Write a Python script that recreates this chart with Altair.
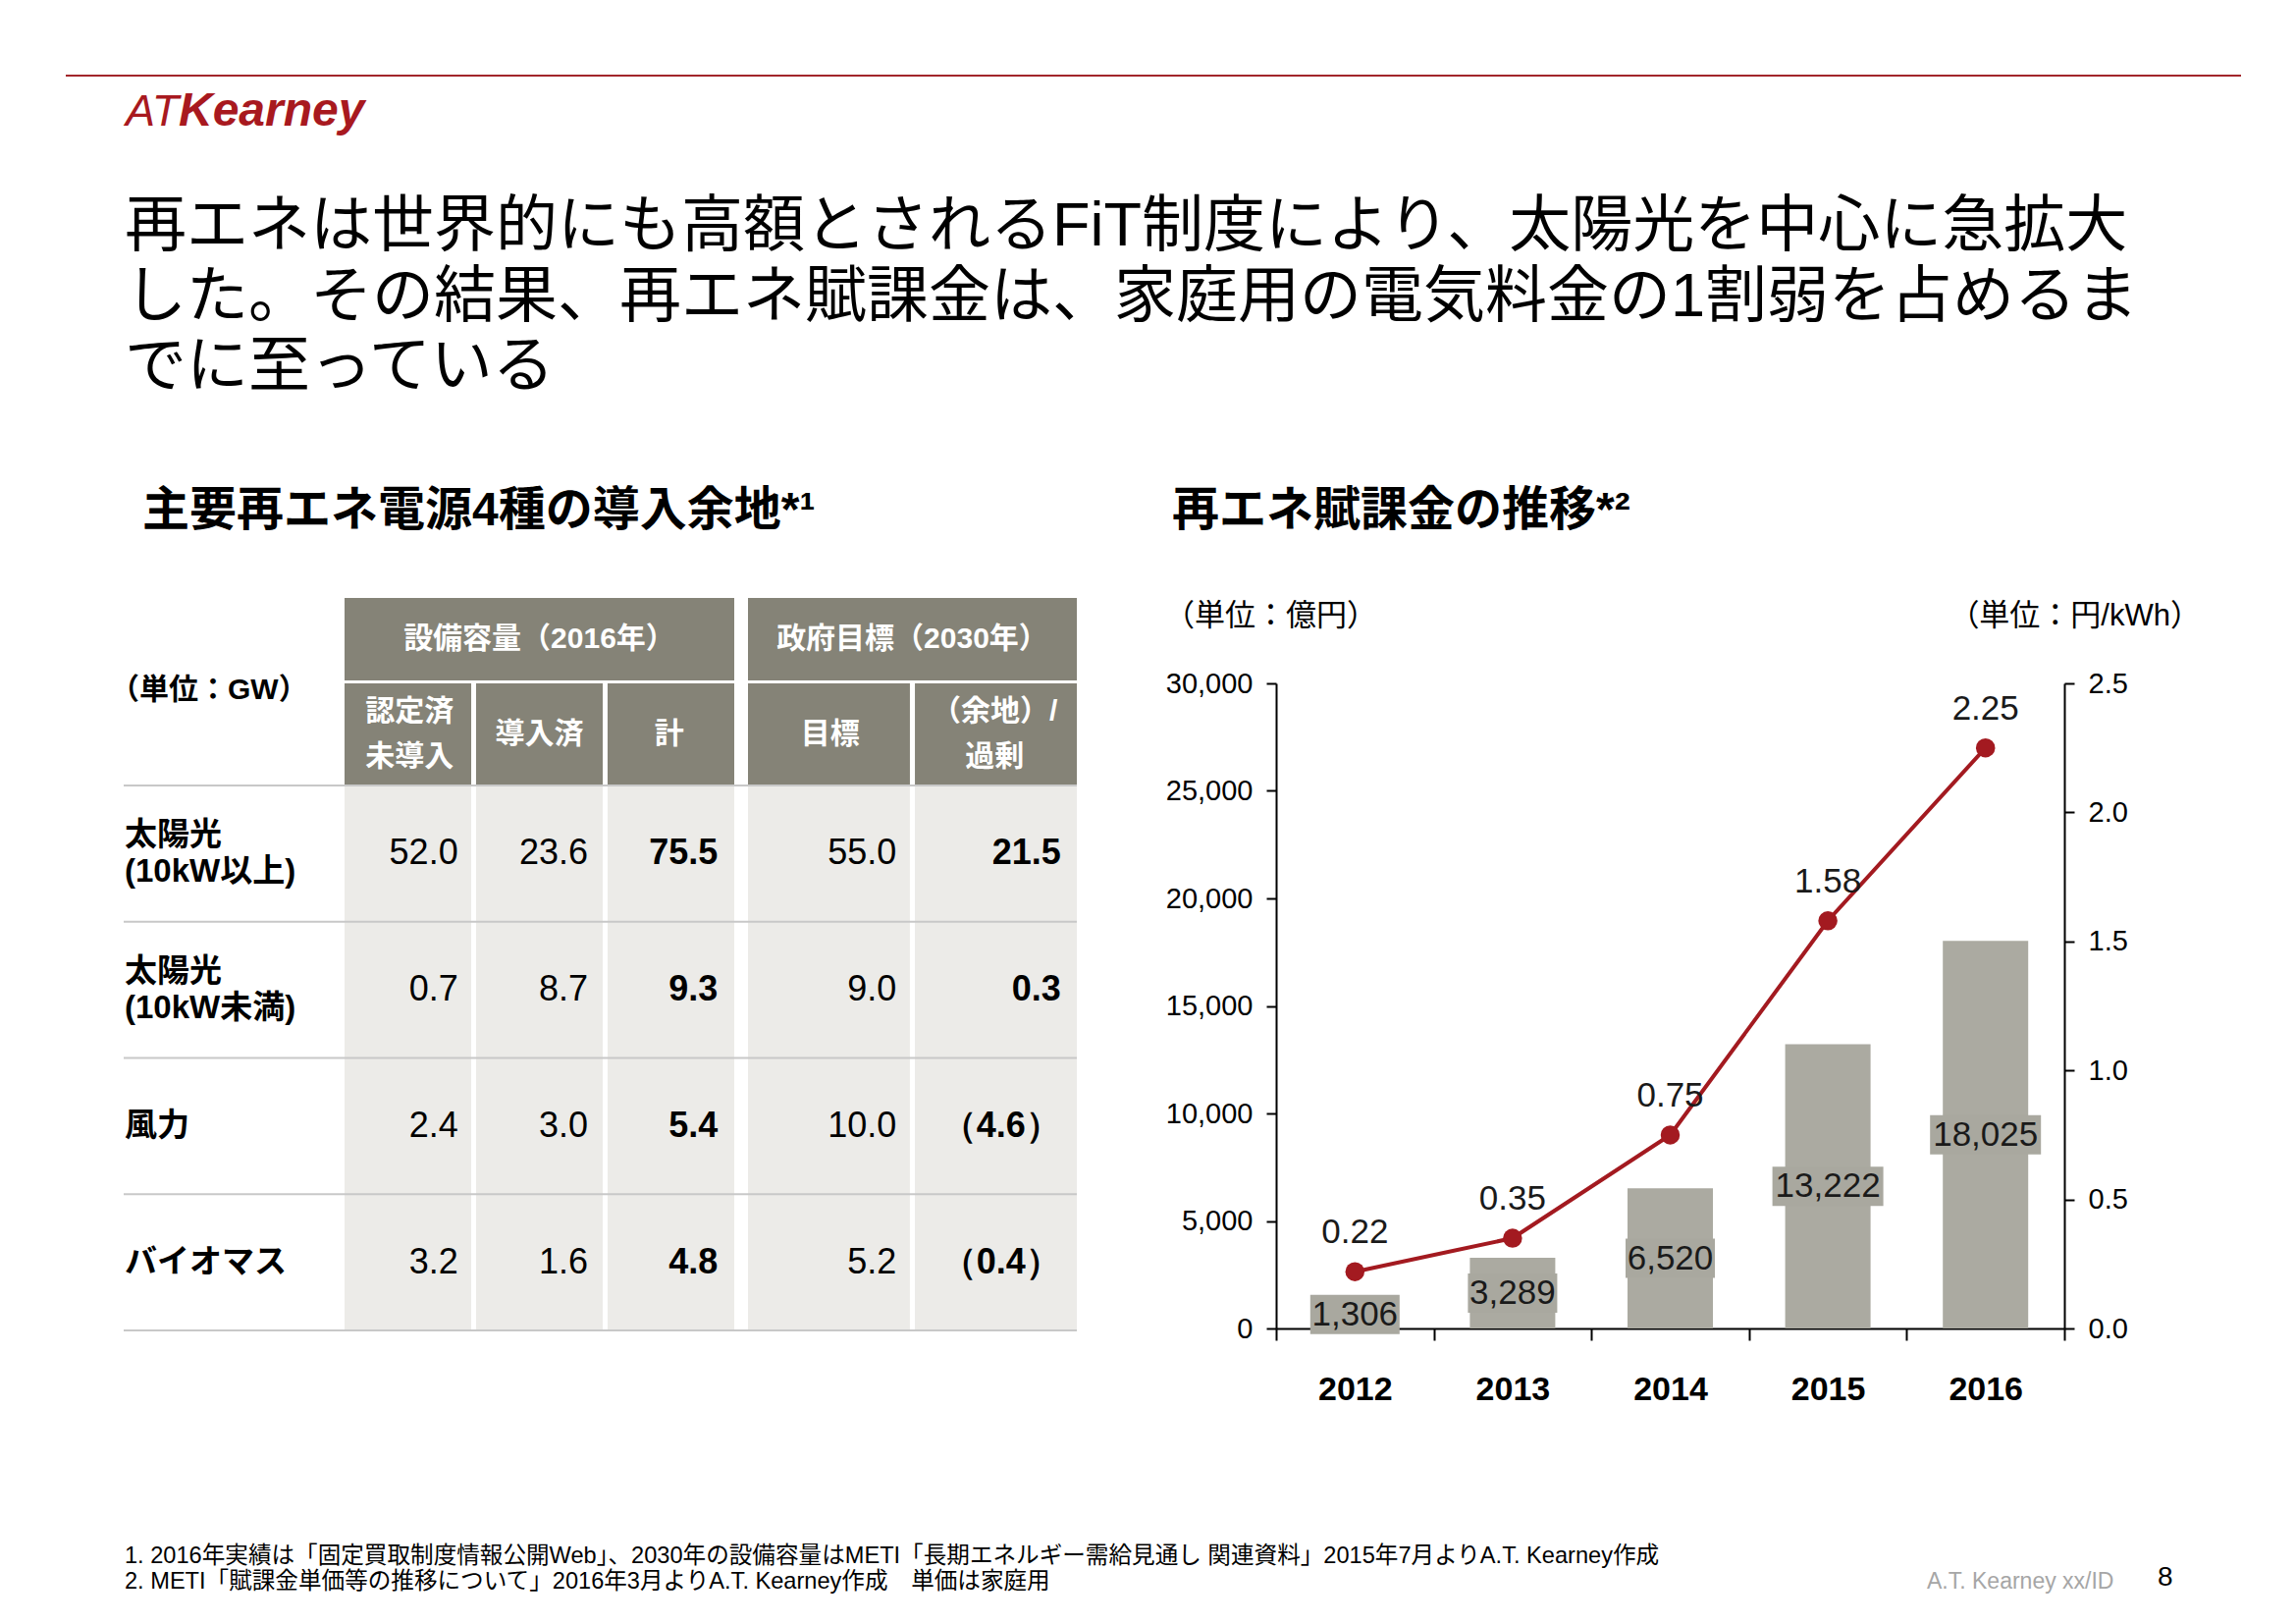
import altair as alt
import pandas as pd

# ---------------- data ----------------
title_lines = [
    "再エネは世界的にも高額とされるFiT制度により、太陽光を中心に急拡大",
    "した。その結果、再エネ賦課金は、家庭用の電気料金の1割弱を占めるま",
    "でに至っている",
]
left_subtitle = "主要再エネ電源4種の導入余地*¹"
right_subtitle = "再エネ賦課金の推移*²"
footnotes = [
    "1. 2016年実績は「固定買取制度情報公開Web」、2030年の設備容量はMETI「長期エネルギー需給見通し 関連資料」2015年7月よりA.T. Kearney作成",
    "2. METI「賦課金単価等の推移について」2016年3月よりA.T. Kearney作成　単価は家庭用",
]

row_labels = ["太陽光\n(10kW以上)", "太陽光\n(10kW未満)", "風力", "バイオマス"]
group_labels = ["設備容量（2016年）", "政府目標（2030年）"]
group1_cols = ["認定済\n未導入", "導入済", "計"]
group2_cols = ["目標", "（余地）/\n過剰"]
bold_cols = ["計", "（余地）/\n過剰"]
certified_not_installed = [52.0, 0.7, 2.4, 3.2]
installed = [23.6, 8.7, 3.0, 1.6]
total = [75.5, 9.3, 5.4, 4.8]
target_2030 = [55.0, 9.0, 10.0, 5.2]
surplus = [21.5, 0.3, -4.6, -0.4]

years = ["2012", "2013", "2014", "2015", "2016"]
levy_oku_yen = [1306, 3289, 6520, 13222, 18025]
unit_price_yen_kwh = [0.22, 0.35, 0.75, 1.58, 2.25]

# ---------------- layout / style ----------------
X0, Y0 = 1300, 696       # page position of plot origin
W, H = 803, 657
def px(x): return x - X0
def py(y): return y - Y0

JP = "Liberation Sans, Noto Sans CJK JP"
LAT = "Liberation Sans"
RED = "#a31a20"
HDR = "#858377"
BODY = "#ecebe8"
BAR = "#abaaa1"
BOX = "#a9a89f"

one = pd.DataFrame({"k": [0]})

def txt(text, x, y, size, weight="normal", color="#000000", align="left",
        baseline="middle", font=JP, style="normal"):
    return alt.Chart(pd.DataFrame({"t": [text]})).mark_text(
        align=align, baseline=baseline, fontSize=size, fontWeight=weight,
        color=color, font=font, fontStyle=style
    ).encode(x=alt.value(px(x)), y=alt.value(py(y)), text="t:N")

def nlines(s):
    return s.count("\n") + 1

layers = []

# top rule + logo
layers.append(alt.Chart(one).mark_rule(color="#a2262b", strokeWidth=2).encode(
    x=alt.value(px(67)), x2=alt.value(px(2283)), y=alt.value(py(77))))
layers.append(txt("AT", 128, 128, 45, color="#a8191f", baseline="alphabetic",
                  font=LAT, style="italic"))
layers.append(txt("Kearney", 182, 128, 48, weight="bold", color="#a8191f",
                  baseline="alphabetic", font=LAT, style="italic"))

# title
for i, line in enumerate(title_lines):
    layers.append(txt(line, 127, [231, 303, 374][i], 63))

# subtitles and unit labels
layers.append(txt(left_subtitle, 145, 521, 48, weight="bold"))
layers.append(txt(right_subtitle, 1194, 521, 48, weight="bold"))
layers.append(txt("（単位：億円）", 1186, 628, 31))
layers.append(txt("（単位：円/kWh）", 2242, 628, 31, align="right"))
layers.append(txt("（単位：GW）", 112, 703, 30, weight="bold"))

# footnotes
layers.append(txt(footnotes[0], 127, 1585, 23.6))
layers.append(txt(footnotes[1], 127, 1611, 23.6))
layers.append(txt("A.T. Kearney xx/ID", 1963, 1611, 23, color="#a6a6a6", font=LAT))
layers.append(txt("8", 2198, 1607, 28, font=LAT))

# ---------------- table ----------------
cols_all = group1_cols + group2_cols
series = [certified_not_installed, installed, total, target_2030, surplus]
def fmt(v):
    return "（%.1f）" % abs(v) if v < 0 else "%.1f" % v
recs = []
for ci, col in enumerate(cols_all):
    for ri, row in enumerate(row_labels):
        recs.append({"row": row, "col": col, "grp": 0 if ci < 3 else 1,
                     "txt": fmt(series[ci][ri]), "bold": col in bold_cols})
tdf = pd.DataFrame(recs)

G_RANGE = [[px(351), px(748)], [px(762), px(1097)]]
G_PAD = [0.037, 0.03]
G_COLS = [group1_cols, group2_cols]
ys = alt.Scale(domain=row_labels, range=[py(800), py(1355)], paddingInner=0, paddingOuter=0)

for gi in range(2):
    xs = alt.Scale(domain=G_COLS[gi], range=G_RANGE[gi], paddingInner=G_PAD[gi], paddingOuter=0)
    n = len(G_COLS[gi])
    span = G_RANGE[gi][1] - G_RANGE[gi][0]
    step = span / (n - G_PAD[gi])
    bw = step * (1 - G_PAD[gi])
    gdf = tdf[tdf.grp == gi]
    layers.append(alt.Chart(gdf).mark_rect(color=BODY).encode(
        x=alt.X("col:N", scale=xs, axis=None), y=alt.Y("row:N", scale=ys, axis=None)))
    for b in [False, True]:
        sub = gdf[gdf.bold == b]
        if len(sub) == 0:
            continue
        layers.append(alt.Chart(sub).mark_text(
            align="right", baseline="middle", dx=bw / 2 - 15, fontSize=36, font=LAT,
            fontWeight="bold" if b else "normal", color="#000000"
        ).encode(x=alt.X("col:N", scale=xs, axis=None),
                 y=alt.Y("row:N", scale=ys, axis=None), text="txt:N"))
    hdf = pd.DataFrame({"col": G_COLS[gi]})
    layers.append(alt.Chart(hdf).mark_rect(color=HDR).encode(
        x=alt.X("col:N", scale=xs, axis=None), y=alt.value(py(696)), y2=alt.value(py(800))))
    for nl in [1, 2]:
        sub = hdf[hdf.col.map(nlines) == nl]
        if len(sub) == 0:
            continue
        layers.append(alt.Chart(sub).mark_text(
            align="center", baseline="middle", fontSize=30, fontWeight="bold", color="white",
            font=JP, lineBreak="\n", lineHeight=46, dy=-(nl - 1) * 23
        ).encode(x=alt.X("col:N", scale=xs, axis=None), y=alt.value(py(748)), text="col:N"))
    g1df = pd.DataFrame({"g": [group_labels[gi]]})
    gs = alt.Scale(domain=[group_labels[gi]], range=G_RANGE[gi], paddingInner=0, paddingOuter=0)
    layers.append(alt.Chart(g1df).mark_rect(color=HDR).encode(
        x=alt.X("g:N", scale=gs, axis=None), y=alt.value(py(609)), y2=alt.value(py(693))))
    layers.append(alt.Chart(g1df).mark_text(
        align="center", baseline="middle", fontSize=30, fontWeight="bold", color="white", font=JP
    ).encode(x=alt.X("g:N", scale=gs, axis=None), y=alt.value(py(651)), text="g:N"))

rdf = pd.DataFrame({"row": row_labels})
layers.append(alt.Chart(rdf).mark_rule(color="#c8c8c8", strokeWidth=2).encode(
    y=alt.Y("row:N", scale=ys, axis=None, bandPosition=0),
    x=alt.value(px(126)), x2=alt.value(px(1097))))
layers.append(alt.Chart(rdf.tail(1)).mark_rule(color="#c8c8c8", strokeWidth=2).encode(
    y=alt.Y("row:N", scale=ys, axis=None, bandPosition=1),
    x=alt.value(px(126)), x2=alt.value(px(1097))))
for nl in [1, 2]:
    sub = rdf[rdf.row.map(nlines) == nl]
    layers.append(alt.Chart(sub).mark_text(
        align="left", baseline="middle", fontSize=33, fontWeight="bold", font=JP,
        lineBreak="\n", lineHeight=37, color="#000000", dy=-(nl - 1) * 18.5
    ).encode(x=alt.value(px(127)), y=alt.Y("row:N", scale=ys, axis=None), text="row:N"))

# ---------------- bar + line chart ----------------
cdf = pd.DataFrame({"year": years, "levy": levy_oku_yen, "price": unit_price_yen_kwh})
cbase = alt.Chart(cdf).transform_calculate(mid="datum.levy / 2")
xscale = alt.Scale(domain=years, paddingInner=0, paddingOuter=0)
x_axis = alt.Axis(title=None, labelAngle=0, tickBand="extent", tickSize=12, tickWidth=2,
                  tickColor="#000", domainColor="#000", domainWidth=2,
                  labelFont=LAT, labelFontSize=34, labelFontWeight="bold",
                  labelColor="#000", labelPadding=33, orient="bottom")
lev_scale = alt.Scale(domain=[0, 30000], nice=False)
lev_axis = alt.Axis(title=None, values=[0, 5000, 10000, 15000, 20000, 25000, 30000],
                    format=",.0f", grid=False, tickSize=10, tickWidth=2, tickColor="#000",
                    domainColor="#000", domainWidth=2, labelFont=LAT, labelFontSize=29,
                    labelColor="#000", labelPadding=14, orient="left")
price_scale = alt.Scale(domain=[0, 2.5], nice=False)
price_axis = alt.Axis(title=None, orient="right", values=[0, 0.5, 1.0, 1.5, 2.0, 2.5],
                      format=".1f", grid=False, tickSize=10, tickWidth=2, tickColor="#000",
                      domainColor="#000", domainWidth=2, labelFont=LAT, labelFontSize=29,
                      labelColor="#000", labelPadding=14)

bars = cbase.mark_bar(color=BAR, size=87).encode(
    x=alt.X("year:N", scale=xscale, axis=x_axis),
    y=alt.Y("levy:Q", scale=lev_scale, axis=lev_axis))
boxes = cbase.mark_tick(color=BOX, thickness=40, opacity=1).encode(
    x=alt.X("year:N", scale=xscale, axis=None),
    y=alt.Y("mid:Q", scale=lev_scale, axis=None),
    size=alt.condition(alt.datum.levy >= 10000, alt.value(113), alt.value(91)))
bar_labels = cbase.mark_text(font=LAT, fontSize=35, color="#1a1a1a", baseline="middle").encode(
    x=alt.X("year:N", scale=xscale, axis=None),
    y=alt.Y("mid:Q", scale=lev_scale, axis=None),
    text=alt.Text("levy:Q", format=","))
line = cbase.mark_line(color=RED, strokeWidth=4).encode(
    x=alt.X("year:N", scale=xscale, axis=None),
    y=alt.Y("price:Q", scale=price_scale, axis=price_axis))
pts = cbase.mark_circle(color=RED, size=380, opacity=1).encode(
    x=alt.X("year:N", scale=xscale, axis=None),
    y=alt.Y("price:Q", scale=price_scale, axis=None))
pt_labels = cbase.mark_text(font=LAT, fontSize=35, color="#1a1a1a", baseline="middle", dy=-40).encode(
    x=alt.X("year:N", scale=xscale, axis=None),
    y=alt.Y("price:Q", scale=price_scale, axis=None),
    text=alt.Text("price:Q", format=".2f"))

layers = [bars] + layers + [boxes, bar_labels, line, pts, pt_labels]

chart = alt.layer(*layers).resolve_scale(x="independent", y="independent").properties(
    width=W, height=H,
    autosize=alt.AutoSizeParams(type="none"),
    padding={"left": X0 - 8, "top": Y0 - 8, "right": 2323 - (X0 - 8) - W,
             "bottom": 1630 - (Y0 - 8) - H},
    background="white",
).configure_view(stroke=None)

chart.save("out.html", embed_options={"renderer": "svg", "actions": False})
